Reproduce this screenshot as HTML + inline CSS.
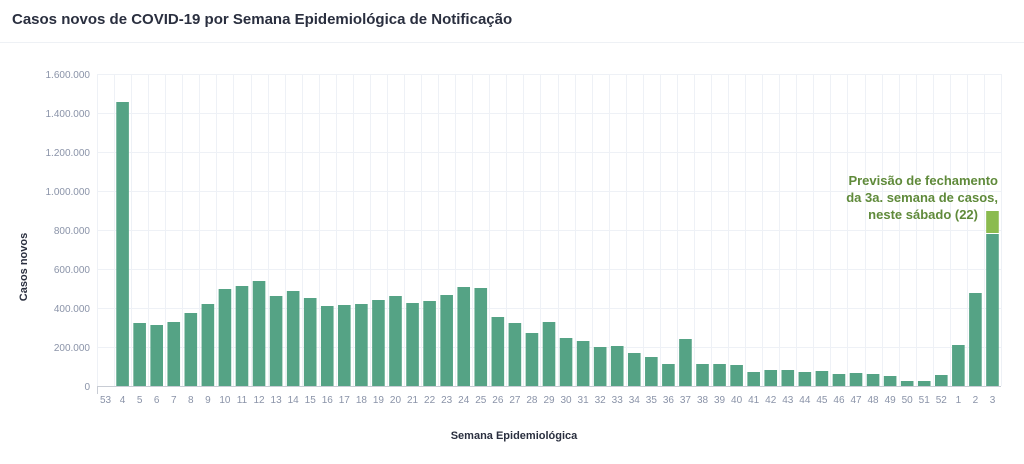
<!DOCTYPE html>
<html><head><meta charset="utf-8"><style>
body{margin:0;background:#fff;font-family:"Liberation Sans",sans-serif}
</style></head><body>
<svg width="1024" height="459" xmlns="http://www.w3.org/2000/svg" font-family="Liberation Sans, sans-serif">
<text x="12" y="24" font-size="15" font-weight="bold" fill="#2a2f3f">Casos novos de COVID-19 por Semana Epidemiológica de Notificação</text>
<line x1="0" y1="42.5" x2="1024" y2="42.5" stroke="#eef1f5"/>
<g id="grid"></g>
<g id="bars"></g>
<g id="lbl" font-size="10" fill="#8a93a8"></g>
<line x1="97" y1="386.5" x2="1001" y2="386.5" stroke="#c8ccd4"/>
<line x1="97.5" y1="386" x2="97.5" y2="394" stroke="#c8ccd4"/>
<text transform="translate(27,267) rotate(-90)" text-anchor="middle" font-size="11" font-weight="bold" fill="#2a2f3f">Casos novos</text>
<text x="514" y="439" text-anchor="middle" font-size="11" font-weight="bold" fill="#2a2f3f">Semana Epidemiológica</text>
<g font-size="13" font-weight="bold" fill="#5f8a3a" text-anchor="end">
<text x="998" y="185">Previsão de fechamento</text>
<text x="998" y="202">da 3a. semana de casos,</text>
<text x="978" y="219">neste sábado (22)</text>
</g>
</svg>
<script>
const labels=["53"];for(let i=4;i<=52;i++)labels.push(""+i);labels.push("1","2","3");
const tops=[386,102,323,325,322,313,304,289,286,281,296,291,298,306,305,304,300,296,303,301,295,287,288,317,323,333,322,338,341,347,346,353,357,364,339,364,364,365,372,370,370,372,371,374,373,374,376,381,381,375,345,293,234];
const ns="http://www.w3.org/2000/svg";
function el(t,a,p){const e=document.createElementNS(ns,t);for(const k in a)e.setAttribute(k,a[k]);document.getElementById(p).appendChild(e);return e;}
const x0=97,w=(1001-97)/53;
for(let i=0;i<=53;i++){const x=Math.round(x0+i*w)+.5;el("line",{x1:x,y1:74,x2:x,y2:386,stroke:"#eef1f6"},"grid");}
const yt=["0","200.000","400.000","600.000","800.000","1.000.000","1.200.000","1.400.000","1.600.000"];
for(let j=0;j<=8;j++){const y=386-j*39;el("line",{x1:97,y1:y+.5,x2:1001,y2:y+.5,stroke:"#eef1f6"},"grid");
const t=el("text",{x:90,y:y+4,"text-anchor":"end"},"lbl");t.textContent=yt[j];}
for(let i=0;i<53;i++){const c=x0+i*w+w/2;
if(tops[i]<386)el("rect",{x:c-6.3,y:tops[i],width:12.6,height:386-tops[i],fill:"#55a385"},"bars");
const t=el("text",{x:c,y:403,"text-anchor":"middle"},"lbl");t.textContent=labels[i];}
const c=x0+52*w+w/2;el("rect",{x:c-6.3,y:211,width:12.6,height:22,fill:"#8bbb4f"},"bars");
</script>
</body></html>
